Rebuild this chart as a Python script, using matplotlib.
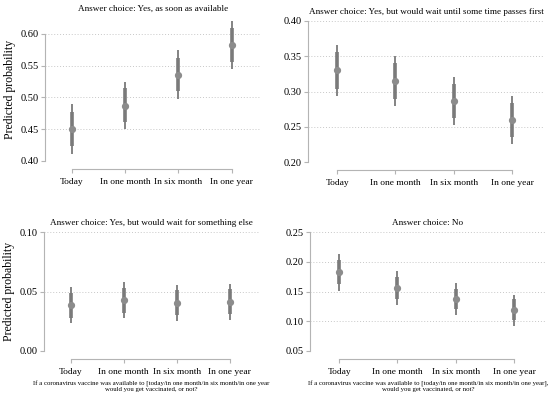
import matplotlib
matplotlib.use("Agg")
import matplotlib.pyplot as plt

plt.rcParams['font.family'] = ['Liberation Serif', 'DejaVu Serif']

# categories on the x axis
cats = ["Today", "In one month", "In six month", "In one year"]

# panel 1: Yes, as soon as available
p1_est = [0.450, 0.487, 0.536, 0.583]
p1_lo95 = [0.411, 0.450, 0.498, 0.544]
p1_hi95 = [0.490, 0.525, 0.574, 0.621]
p1_lo90 = [0.423, 0.461, 0.510, 0.556]
p1_hi90 = [0.477, 0.515, 0.562, 0.609]

# panel 2: Yes, but would wait until some time passes first
p2_est = [0.330, 0.315, 0.287, 0.259]
p2_lo95 = [0.293, 0.280, 0.253, 0.225]
p2_hi95 = [0.366, 0.350, 0.321, 0.293]
p2_lo90 = [0.304, 0.290, 0.263, 0.236]
p2_hi90 = [0.356, 0.340, 0.311, 0.283]

# panel 3: Yes, but would wait for something else
p3_est = [0.0383, 0.0425, 0.0406, 0.0410]
p3_lo95 = [0.0237, 0.0276, 0.0254, 0.0260]
p3_hi95 = [0.0535, 0.0580, 0.0555, 0.0564]
p3_lo90 = [0.0280, 0.0320, 0.0300, 0.0310]
p3_hi90 = [0.0485, 0.0527, 0.0510, 0.0520]

# panel 4: No
p4_est = [0.183, 0.1565, 0.138, 0.119]
p4_lo95 = [0.1514, 0.1272, 0.110, 0.0928]
p4_hi95 = [0.2128, 0.1846, 0.164, 0.1446]
p4_lo90 = [0.163, 0.138, 0.120, 0.1018]
p4_hi90 = [0.203, 0.175, 0.155, 0.137]

titles = ["Answer choice: Yes, as soon as available",
          "Answer choice: Yes, but would wait until some time passes first",
          "Answer choice: Yes, but would wait for something else",
          "Answer choice: No"]

xlab3 = ("If a coronavirus vaccine was available to [today/in one month/in six month/in one year\n"
         "would you get vaccinated, or not?")
xlab4 = ("If a coronavirus vaccine was available to [today/in one month/in six month/in one year],\n"
         "would you get vaccinated, or not?")

W, H = 550, 395
fig = plt.figure(figsize=(W / 100, H / 100), dpi=100)


def px_axes(left, right, bottom, top):
    return fig.add_axes([left / W, 1 - bottom / H, (right - left) / W, (bottom - top) / H])


# pixel boxes: left, right, bottom, top
boxes = [(45, 261, 161, 18), (308, 544, 162, 21), (44, 259, 351, 232), (310, 546, 351, 232)]
ylims = [(0.40, 0.625), (0.20, 0.40), (0.0, 0.10), (0.05, 0.25)]
yticks = [[0.40, 0.45, 0.50, 0.55, 0.60], [0.20, 0.25, 0.30, 0.35, 0.40],
          [0.00, 0.05, 0.10], [0.05, 0.10, 0.15, 0.20, 0.25]]
ests = [p1_est, p2_est, p3_est, p4_est]
lo95s = [p1_lo95, p2_lo95, p3_lo95, p4_lo95]
hi95s = [p1_hi95, p2_hi95, p3_hi95, p4_hi95]
lo90s = [p1_lo90, p2_lo90, p3_lo90, p4_lo90]
hi90s = [p1_hi90, p2_hi90, p3_hi90, p4_hi90]

axcol = "#b4b4b4"
ci_col = "#7a7a7a"
x = list(range(len(cats)))

for i in range(4):
    ax = px_axes(*boxes[i])
    ax.set_xlim(-0.5, 3.55)
    ax.set_ylim(*ylims[i])
    ax.set_yticks(yticks[i])
    ax.set_yticklabels(["%.2f" % t for t in yticks[i]])
    for t in yticks[i]:
        ax.axhline(t, color="#c8c8c8", lw=0.7, ls=(0, (1, 2)), zorder=0)
    ax.vlines(x, lo95s[i], hi95s[i], color=ci_col, lw=1.3, zorder=2)
    ax.vlines(x, lo90s[i], hi90s[i], color=ci_col, lw=2.6, zorder=3)
    ax.plot(x, ests[i], "o", color="#8c8c8c", ms=4.2, mec="#8c8c8c", zorder=4, ls="none")

    ax.set_xticks(x)
    ax.set_xticklabels(cats)
    ax.tick_params(axis="x", colors=axcol, length=3, width=0.8, labelcolor="black",
                   labelsize=6.8, pad=3.5)
    ax.tick_params(axis="y", colors=axcol, length=3, width=0.8, labelcolor="black",
                   labelsize=7.5, pad=1.5)
    for s in ["top", "right"]:
        ax.spines[s].set_visible(False)
    ax.spines["left"].set_color(axcol)
    ax.spines["left"].set_linewidth(0.8)
    ax.spines["left"].set_bounds(yticks[i][0], yticks[i][-1])
    ax.spines["bottom"].set_color(axcol)
    ax.spines["bottom"].set_linewidth(0.8)
    ax.spines["bottom"].set_position(("outward", 5.5))
    ax.spines["bottom"].set_bounds(0, 3)
    ax.set_title(titles[i], fontsize=6.6, pad=5)
    if i in (0, 2):
        ax.set_ylabel("Predicted probability", fontsize=8.5, labelpad=3)
    if i == 2:
        ax.set_xlabel(xlab3, fontsize=4.85, labelpad=3.5, linespacing=1.0)
    if i == 3:
        ax.set_xlabel(xlab4, fontsize=4.85, labelpad=3.5, linespacing=1.0)

fig.savefig("out.png", dpi=100, facecolor="white")
